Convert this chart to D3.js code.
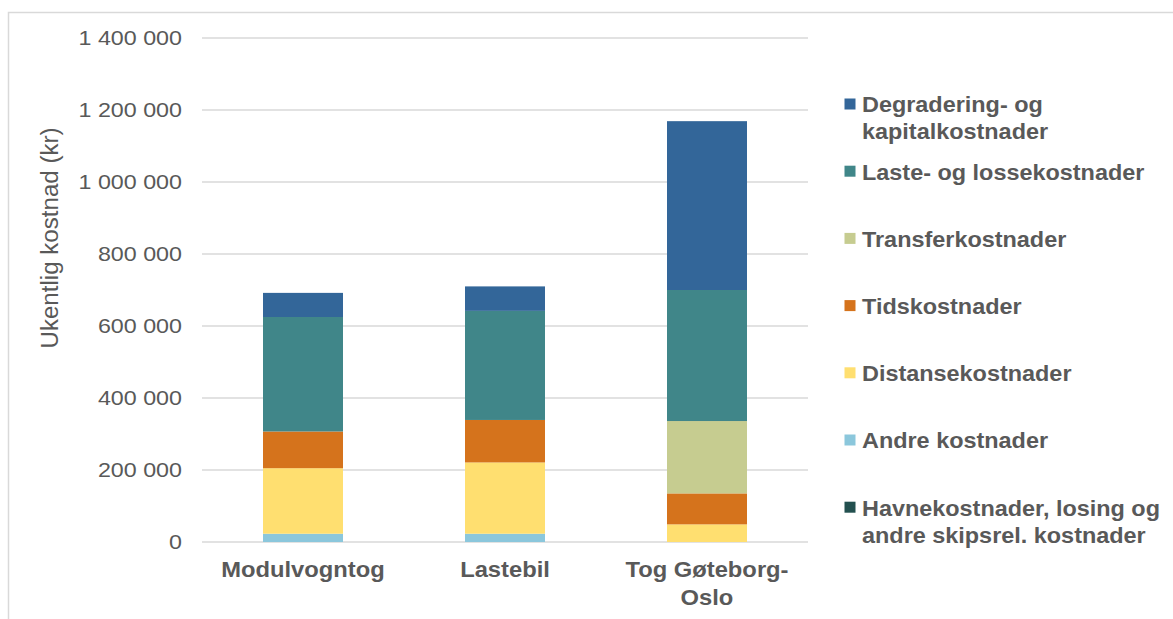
<!DOCTYPE html>
<html>
<head>
<meta charset="utf-8">
<script src="https://cdn.jsdelivr.net/npm/d3@7"></script>
<style>
  html, body { margin: 0; padding: 0; background: #ffffff; }
  svg { display: block; font-family: "Liberation Sans", Arial, sans-serif; }
</style>
</head>
<body>
<svg id="chart" width="1173" height="619"></svg>
<script>
// Categories (x axis) and their label lines
const categories = ["Modulvogntog", "Lastebil", "Tog Gøteborg-Oslo"];
const categoryLines = [["Modulvogntog"], ["Lastebil"], ["Tog Gøteborg-", "Oslo"]];

// Weekly cost per cost type (kr), one value per category
const havne       = [0, 0, 0];
const andre       = [23000, 23000, 0];
const distanse    = [182000, 198000, 49000];
const tids        = [102000, 118000, 86000];
const transfer    = [0, 0, 201000];
const laste       = [318000, 303000, 364000];
const degradering = [67000, 68000, 469000];

// Series, stacked bottom to top
const seriesKeys = ["havne", "andre", "distanse", "tids", "transfer", "laste", "degradering"];
const seriesValues = [havne, andre, distanse, tids, transfer, laste, degradering];
const seriesColors = ["#23504f", "#8bc7dc", "#ffdf70", "#d5731c", "#c6cc90", "#408689", "#336699"];

// Legend entries, top to bottom
const legendKeys = ["degradering", "laste", "transfer", "tids", "distanse", "andre", "havne"];
const legendLines = [
  ["Degradering- og", "kapitalkostnader"],
  ["Laste- og lossekostnader"],
  ["Transferkostnader"],
  ["Tidskostnader"],
  ["Distansekostnader"],
  ["Andre kostnader"],
  ["Havnekostnader, losing og", "andre skipsrel. kostnader"]
];

const yTicks = [0, 200000, 400000, 600000, 800000, 1000000, 1200000, 1400000];
const yTitle = "Ukentlig kostnad (kr)";

const textColor = "#595959";
const gridColor = "#d9d9d9";

const svg = d3.select("#chart");

// Stretch text horizontally around its anchor x
function stretchX(sel, k) {
  sel.each(function () {
    const x = +this.getAttribute("x") || 0;
    this.setAttribute("transform", `matrix(${k},0,0,1,${x * (1 - k)},0)`);
  });
}

// Outer frame (top and left edges)
svg.append("path")
  .attr("d", "M8.5,619 L8.5,12.5 L1173,12.5")
  .attr("fill", "none")
  .attr("stroke", gridColor)
  .attr("stroke-width", 1.5);

const plot = { left: 202, right: 808, top: 38, bottom: 542 };

const x = d3.scaleBand()
  .domain(categories)
  .range([plot.left, plot.right])
  .paddingInner(0.604)
  .paddingOuter(0.302);

const y = d3.scaleLinear()
  .domain([0, 1400000])
  .range([plot.bottom, plot.top]);

const nb = d3.formatLocale({ decimal: ",", thousands: " ", grouping: [3], currency: ["", " kr"] });
const fmt = nb.format(",");

// Gridlines
svg.append("g")
  .selectAll("line")
  .data(yTicks)
  .join("line")
  .attr("x1", plot.left)
  .attr("x2", plot.right)
  .attr("y1", d => y(d))
  .attr("y2", d => y(d))
  .attr("stroke", gridColor)
  .attr("stroke-width", 1.5);

// Y tick labels
svg.append("g")
  .selectAll("text")
  .data(yTicks)
  .join("text")
  .attr("x", 182)
  .attr("y", d => y(d))
  .attr("dy", "0.36em")
  .attr("text-anchor", "end")
  .attr("font-size", 20.6)
  .attr("fill", textColor)
  .text(d => fmt(d))
  .call(stretchX, 1.13);

// Y axis title
svg.append("text")
  .attr("transform", `translate(58,${238}) rotate(-90)`)
  .attr("text-anchor", "middle")
  .attr("font-size", 23.5)
  .attr("fill", textColor)
  .attr("textLength", 221)
  .attr("lengthAdjust", "spacingAndGlyphs")
  .text(yTitle);

// Stacked bars
const table = categories.map((c, i) => {
  const row = { category: c };
  seriesKeys.forEach((k, j) => { row[k] = seriesValues[j][i]; });
  return row;
});
const stacked = d3.stack().keys(seriesKeys)(table);
const color = d3.scaleOrdinal().domain(seriesKeys).range(seriesColors);

svg.append("g")
  .selectAll("g")
  .data(stacked)
  .join("g")
  .attr("fill", d => color(d.key))
  .selectAll("rect")
  .data(d => d.filter(s => s[1] - s[0] > 0))
  .join("rect")
  .attr("x", d => x(d.data.category))
  .attr("width", x.bandwidth())
  .attr("y", d => y(d[1]))
  .attr("height", d => y(d[0]) - y(d[1]));

// Category labels
const cat = svg.append("g")
  .selectAll("g")
  .data(categories)
  .join("g");
cat.each(function (c, i) {
  const cx = x(c) + x.bandwidth() / 2;
  d3.select(this).selectAll("text")
    .data(categoryLines[i])
    .join("text")
    .attr("x", cx)
    .attr("y", (d, j) => 577 + j * 28)
    .attr("text-anchor", "middle")
    .attr("font-size", 21.6)
    .attr("font-weight", "bold")
    .attr("fill", textColor)
    .text(d => d)
    .call(stretchX, 1.1);
});

// Legend
const legend = svg.append("g")
  .selectAll("g")
  .data(legendKeys)
  .join("g");
legend.each(function (k, i) {
  const base = 112.5 + i * 67.2;
  const g = d3.select(this);
  g.append("rect")
    .attr("x", 844.5)
    .attr("y", base - 14)
    .attr("width", 11)
    .attr("height", 11)
    .attr("fill", color(k));
  g.selectAll("text")
    .data(legendLines[i])
    .join("text")
    .attr("x", 862)
    .attr("y", (d, j) => base + j * 27)
    .attr("font-size", 21.3)
    .attr("font-weight", "bold")
    .attr("fill", textColor)
    .text(d => d)
    .call(stretchX, 1.1);
});
</script>
</body>
</html>
